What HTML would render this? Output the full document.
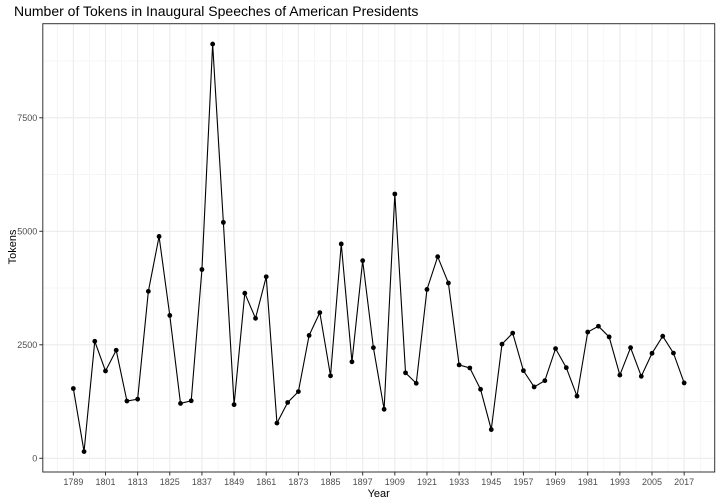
<!DOCTYPE html>
<html><head><meta charset="utf-8"><style>
body{margin:0;background:#fff}
svg{display:block;font-family:"Liberation Sans",sans-serif}
</style></head><body>
<svg id="chart" width="720" height="504">
<text x="14" y="16" font-size="14" fill="#000">Number of Tokens in Inaugural Speeches of American Presidents</text>
<text x="378.7" y="497" font-size="11" text-anchor="middle" fill="#000">Year</text>
<text transform="translate(16,247) rotate(-90)" font-size="11" text-anchor="middle" fill="#000">Tokens</text>
<g id="grid"></g><g id="axes"></g><g id="marks"></g>
<rect x="42.8" y="23.7" width="671.9" height="448.3" fill="none" stroke="#333" stroke-width="1"/>
</svg>
<script>
const years=[1789,1793,1797,1801,1805,1809,1813,1817,1821,1825,1829,1833,1837,1841,1845,1849,1853,1857,1861,1865,1869,1873,1877,1881,1885,1889,1893,1897,1901,1905,1909,1913,1917,1921,1925,1929,1933,1937,1941,1945,1949,1953,1957,1961,1965,1969,1973,1977,1981,1985,1989,1993,1997,2001,2005,2009,2013,2017];
const tokens=[1537,147,2577,1923,2380,1261,1302,3677,4886,3147,1208,1267,4158,9123,5196,1182,3636,3083,3999,775,1229,1469,2707,3209,1816,4721,2125,4353,2437,1079,5821,1882,1652,3719,4440,3860,2057,1989,1519,633,2514,2757,1931,1571,1710,2416,1995,1369,2780,2909,2673,1833,2436,1806,2312,2689,2317,1660];
const xTicks=[1789,1801,1813,1825,1837,1849,1861,1873,1885,1897,1909,1921,1933,1945,1957,1969,1981,1993,2005,2017];
const yTicks=[0,2500,5000,7500];
const NS="http://www.w3.org/2000/svg";
const L=42.8,R=714.7,T=23.7,B=472;
const xmin=1777.6,xmax=2028.4,ymin=-302,ymax=9572;
const X=v=>L+(v-xmin)/(xmax-xmin)*(R-L);
const Y=v=>B-(v-ymin)/(ymax-ymin)*(B-T);
function mk(tag,attrs,parent){const e=document.createElementNS(NS,tag);for(const k in attrs)e.setAttribute(k,attrs[k]);parent.appendChild(e);return e;}
const grid=document.getElementById('grid'),axes=document.getElementById('axes'),marks=document.getElementById('marks');
for(let v=xTicks[0]-6;v<=xmax;v+=12){if(v<xmin)continue;const l=mk('line',{x1:X(v),x2:X(v),y1:T,y2:B,stroke:'#f0f0f0','stroke-width':0.6},grid);

}
for(let v=-1250;v<=ymax;v+=2500){if(v<ymin)continue;const l=mk('line',{x1:L,x2:R,y1:Y(v),y2:Y(v),stroke:'#f0f0f0','stroke-width':0.6},grid);

}
xTicks.forEach(v=>{const l=mk('line',{x1:X(v),x2:X(v),y1:T,y2:B,stroke:'#ebebeb','stroke-width':1.1},grid);


const t=mk('line',{x1:X(v),x2:X(v),y1:B,y2:B+3.5,stroke:'#333','stroke-width':1},axes);


const tx=mk('text',{x:X(v),y:B+13,'font-size':9,'text-anchor':'middle',fill:'#4d4d4d'},axes);tx.textContent=v;

});
yTicks.forEach(v=>{const l=mk('line',{x1:L,x2:R,y1:Y(v),y2:Y(v),stroke:'#ebebeb','stroke-width':1.1},grid);


const t=mk('line',{x1:L-3.5,x2:L,y1:Y(v),y2:Y(v),stroke:'#333','stroke-width':1},axes);


const tx=mk('text',{x:L-5.5,y:Y(v)+3.2,'font-size':9,'text-anchor':'end',fill:'#4d4d4d'},axes);tx.textContent=v;

});
const p=mk('polyline',{points:years.map((y,i)=>X(y)+','+Y(tokens[i])).join(' '),fill:'none',stroke:'#000','stroke-width':1.1},marks);


years.forEach((y,i)=>{const c=mk('circle',{cx:X(y),cy:Y(tokens[i]),r:2.4,fill:'#000'},marks);

});
</script>
</body></html>
